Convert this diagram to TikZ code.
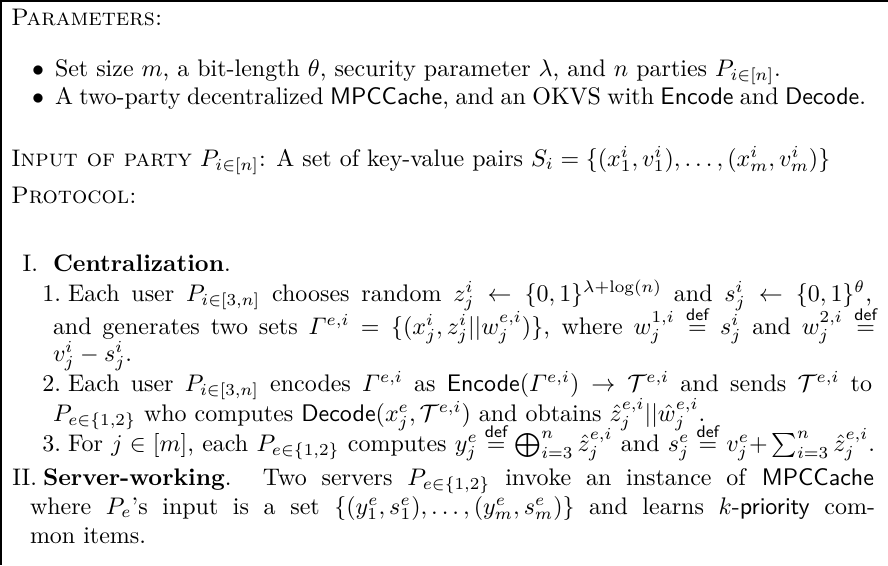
\documentclass[tikz,border=0pt]{standalone}
\usepackage{amsmath,amssymb}
\newlength\pxu
\setlength\pxu{0.417pt}
\tikzset{
  txt/.style={anchor=base west,inner sep=0pt,outer sep=0pt},
  lbl/.style={anchor=base east,inner sep=0pt,outer sep=0pt},
  frame/.style={line width=0.8pt}
}
\newcommand\jline[5]{\node[txt] (#1) at (#2,#3) {\makebox[\dimexpr #4\pxu-#2\pxu\relax][s]{#5}};}
\newcommand\dfeq{\overset{\textsf{def}}{=}}
\begin{document}
\begin{tikzpicture}[x=\pxu,y=-\pxu]
\useasboundingbox (0,0) rectangle (888,565);
\coordinate (tl) at (1,1);
\coordinate (tr) at (888,1);
\coordinate (bl) at (1,565);
\draw[frame] (tr) -- (tl) -- (bl);

\node[txt] (par) at (11,25) {\textsc{Parameters:}};
\node[txt] (b1) at (32,76) {$\bullet$};
\node[txt] (t1) at (55,76) {Set size $m$, a bit-length $\theta$, security parameter $\lambda$, and $n$ parties $P_{i\in[n]}$.};
\node[txt] (b2) at (32,104) {$\bullet$};
\jline{t2}{55}{104}{866}{A two-party decentralized \textsf{MPCCache}, and an OKVS with \textsf{Encode} and \textsf{Decode}.}
\node[txt] (inp) at (11,166) {\textsc{Input of party} $P_{i\in[n]}$: A set of key-value pairs $S_i=\{(x_1^i,v_1^i),\ldots,(x_m^i,v_m^i)\}$};
\node[txt] (prot) at (11,203) {\textsc{Protocol:}};

\node[lbl] (l1) at (38,271) {I.};
\node[txt] (c1) at (53,271) {\textbf{Centralization}.};
\node[lbl] (n1) at (61,301) {1.};
\jline{a1}{68}{301}{872}{Each user $P_{i\in[3,n]}$ chooses random $z_j^i\leftarrow\{0,1\}^{\lambda+\log(n)}$ and $s_j^i\leftarrow\{0,1\}^{\theta}$,}
\jline{a2}{53}{334}{877}{and generates two sets $\varGamma^{e,i}=\{(x_j^i,z_j^i||w_j^{e,i})\}$, where $w_j^{1,i}\dfeq s_j^i$ and $w_j^{2,i}\dfeq$}
\node[txt] (a3) at (53,361) {$v_j^i-s_j^i$.};
\node[lbl] (n2) at (61,391) {2.};
\jline{b1l}{68}{391}{872}{Each user $P_{i\in[3,n]}$ encodes $\varGamma^{e,i}$ as $\textsf{Encode}(\varGamma^{e,i})\rightarrow\mathcal{T}^{e,i}$ and sends $\mathcal{T}^{e,i}$ to}
\node[txt] (b2l) at (53,421) {$P_{e\in\{1,2\}}$ who computes $\textsf{Decode}(x_j^e,\mathcal{T}^{e,i})$ and obtains $\hat{z}_j^{e,i}||\hat{w}_j^{e,i}$.};
\node[lbl] (n3) at (61,451) {3.};
\jline{c1l}{68}{451}{875}{For $j\in[m]$, each $P_{e\in\{1,2\}}$ computes $y_j^e\dfeq\bigoplus_{i=3}^n\hat{z}_j^{e,i}$ and $s_j^e\dfeq v_j^e{+}\sum_{i=3}^n\hat{z}_j^{e,i}$.}

\node[lbl] (l2) at (37,485) {II.};
\jline{d1}{43}{485}{874}{\textbf{Server-working}. Two servers $P_{e\in\{1,2\}}$ invoke an instance of \textsf{MPCCache}}
\jline{d2}{30}{514}{875}{where $P_e$'s input is a set $\{(y_1^e,s_1^e),\ldots,(y_m^e,s_m^e)\}$ and learns $k$-\textsf{priority} com-}
\node[txt] (d3) at (30,543) {mon items.};
\end{tikzpicture}
\end{document}
